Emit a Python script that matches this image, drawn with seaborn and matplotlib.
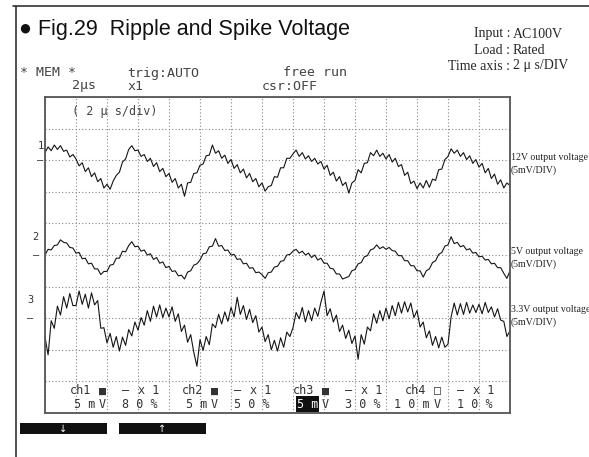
import numpy as np
import pandas as pd
import matplotlib
matplotlib.use("Agg")
import matplotlib.pyplot as plt
from matplotlib.lines import Line2D
from matplotlib.patches import Rectangle
import seaborn as sns

W, H = 589, 457

# sample times in µs (15 div x 2 µs/div)
time_us = np.round(np.arange(0, 30.01, 0.2), 1)

# traces, mV relative to each channel's ground marker
ch1_mv = [1.2, 2.1, 1.5, 2.4, 1.7, 2.3, 1.4, 1.6, 0.5, 0.9,
          0.2, -0.9, -0.4, -1.8, -1.2, -2.6, -2.0, -3.4, -2.9, -4.4,
          -3.8, -4.6, -3.3, -2.4, -1.9, -0.3, 0.2, 1.7, 2.3, 1.5,
          1.6, 0.6, 0.9, -0.2, 0.3, -1.0, -0.4, -1.8, -1.3, -2.6,
          -2.1, -3.5, -2.9, -4.4, -3.8, -5.7, -3.6, -3.5, -2.1, -2.0,
          -0.8, -0.6, 0.7, 0.8, 2.4, 1.1, 1.5, 0.3, 0.8, -0.5,
          0.1, -1.3, -0.7, -2.0, -1.4, -2.8, -2.1, -3.4, -2.9, -4.2,
          -3.6, -4.9, -4.2, -4.0, -2.6, -2.7, -1.2, -1.2, 0.3, 0.3,
          1.0, 1.6, 0.6, 1.2, 0.2, 0.7, -0.2, 0.3, -0.6, -0.2,
          -1.4, -0.8, -2.4, -1.9, -3.3, -2.6, -4.0, -3.5, -5.2, -3.6,
          -3.2, -1.5, -2.0, -0.5, -0.4, 1.2, 0.7, 1.6, 0.6, 1.1,
          0.2, 0.9, -0.3, 0.3, -1.0, -0.7, -2.4, -1.9, -3.7, -3.3,
          -4.5, -3.6, -4.4, -3.2, -4.3, -3.0, -3.2, -1.5, -1.4, 0.1,
          0.6, 1.8, 1.1, 1.6, 0.6, 1.2, 0.1, 0.7, -0.5, 0.1,
          -1.1, -0.5, -2.0, -1.3, -2.9, -2.2, -3.8, -3.1, -4.4, -3.6, -4.0]
ch2_mv = [0.0, 0.9, 0.8, 1.5, 1.6, 2.4, 2.0, 1.9, 1.2, 1.1,
          0.3, 0.4, -0.6, -0.5, -1.4, -1.3, -2.2, -2.2, -3.1, -2.6,
          -2.6, -1.6, -1.5, -0.5, -0.5, 0.6, 0.5, 1.5, 2.1, 1.3,
          1.4, 0.6, 0.8, 0.0, 0.2, -0.7, -0.4, -1.3, -1.1, -2.0,
          -1.8, -2.6, -2.5, -3.3, -3.2, -3.8, -2.7, -2.5, -1.6, -1.4,
          -0.8, 0.2, 0.3, 1.3, 1.4, 2.6, 1.4, 1.5, 0.7, 0.8,
          0.0, 0.1, -0.7, -0.6, -1.4, -1.3, -2.1, -2.0, -2.8, -2.7,
          -3.1, -3.7, -2.8, -2.7, -1.9, -1.8, -1.0, -0.9, 0.0, 0.1,
          0.6, 0.9, 0.3, 0.6, 0.0, 0.3, -0.4, 0.0, -0.8, -0.5,
          -1.3, -1.3, -2.1, -2.2, -3.0, -3.0, -3.8, -3.6, -3.4, -2.5,
          -2.3, -1.4, -1.2, -0.3, -0.1, 0.8, 1.0, 1.6, 1.0, 1.3,
          0.9, 1.2, 0.7, 0.6, -0.1, -0.1, -0.9, -0.9, -1.7, -1.7,
          -2.5, -2.5, -3.5, -2.5, -2.2, -1.2, -0.9, 0.1, 0.4, 1.4,
          1.6, 2.9, 1.8, 2.0, 1.3, 1.5, 0.8, 1.0, 0.3, 0.4,
          -0.3, -0.2, -0.8, -0.7, -1.4, -1.3, -2.0, -2.0, -2.9, -3.7, -2.5]
ch3_mv = [-3.0, -5.8, -0.4, -1.6, 1.9, 0.5, 3.4, 1.6, 3.9, 2.0,
          2.0, 4.3, 2.2, 3.8, 1.6, 4.0, 2.1, 2.8, -1.6, -1.5,
          -3.9, -2.4, -4.6, -2.9, -5.2, -3.0, -4.3, -1.8, -2.8, -0.6,
          -1.9, 0.1, -1.1, 1.2, -0.5, 1.9, 0.2, 2.1, 0.1, 1.6,
          0.2, 1.8, -0.5, 0.7, -2.1, -1.1, -3.8, -2.6, -5.4, -7.6,
          -3.4, -5.1, -2.9, -4.2, -0.9, -1.5, 0.6, -0.9, 1.0, -0.5,
          1.7, 0.2, 3.3, 0.6, 2.0, -0.2, 1.4, -0.7, 0.4, -2.2,
          -1.4, -3.7, -2.6, -5.0, -3.5, -5.2, -3.1, -4.6, -2.2, -2.9,
          -1.5, 0.9, -0.1, 1.7, -0.6, 1.2, -0.4, 1.6, 0.3, 2.5,
          4.3, 0.4, 1.5, -0.6, 0.5, -2.1, -1.1, -3.2, -1.9, -4.0,
          -2.8, -6.5, -2.6, -4.1, -1.4, -2.0, 0.7, -0.8, 1.2, -0.4,
          1.6, -0.1, 2.0, 0.4, 2.5, 0.8, 2.6, 1.0, 2.4, 0.1,
          1.2, -1.4, -0.6, -3.1, -2.0, -4.3, -2.9, -4.7, -3.0, -4.6,
          -4.1, 0.2, 2.4, 0.5, 2.3, 0.6, 2.5, 0.8, 2.1, 0.9,
          2.2, 0.7, 2.5, 0.9, 1.8, 0.2, 1.5, -0.3, -0.5, -2.9, -2.0]

channels = ["ch1", "ch2", "ch3"]
offset_pct = [80, 50, 30]          # ground position, % of screen height
mv_per_div = [5, 5, 5]
right_labels = ["12V output voltage", "5V output voltage", "3.3V output voltage"]

df = pd.DataFrame({
    "time_us": np.tile(time_us, 3),
    "mV": ch1_mv + ch2_mv + ch3_mv,
    "channel": np.repeat(channels, len(time_us)),
})
off = dict(zip(channels, offset_pct))
scale = dict(zip(channels, mv_per_div))
df["div"] = df["channel"].map(off) / 10 + df["mV"] / df["channel"].map(scale)

sns.set_style("white")
plt.rcParams["font.family"] = ["Liberation Sans", "DejaVu Sans"]

fig = plt.figure(figsize=(W / 100, H / 100), dpi=100)


def fx(x):
    return x / W


def fy(y):
    return 1 - y / H


# outer frame
fig.add_artist(Line2D([fx(13), 1], [fy(6), fy(6)], color="#333", lw=1.2))
fig.add_artist(Line2D([fx(16), fx(16)], [fy(6), 0], color="#333", lw=1.2))

# title
fig.text(fx(19), fy(30), "● Fig.29  Ripple and Spike Voltage", fontsize=15.5,
         va="center", ha="left", color="#111")

# conditions (colon aligned)
serif = ["Liberation Serif", "DejaVu Serif"]
for y, left, right in [(34, "Input :", "AC100V"), (50, "Load :", "Rated"),
                       (66, "Time axis :", "2 μ s/DIV")]:
    fig.text(fx(510), fy(y), left, family=serif, fontsize=10, ha="right", va="center")
    fig.text(fx(513), fy(y), right, family=serif, fontsize=10, ha="left", va="center")

# scope header
mono = ["DejaVu Sans Mono"]
hdr = dict(family=mono, fontsize=9.5, color="#444", va="center", ha="left")
for x, y, s in [(20, 73, "* MEM *"), (127, 73, "trig:AUTO"), (283, 73, "free run"),
                (72, 86, "2μs"), (128, 86, "x1"), (262, 86, "csr:OFF")]:
    fig.text(fx(x), fy(y), s, **hdr)

# screen
ax = fig.add_axes([fx(45), fy(413), (510 - 45) / W, (413 - 97) / H])
sns.lineplot(data=df, x="time_us", y="div", hue="channel",
             palette=["#151515"] * 3, legend=False, linewidth=0.8,
             estimator=None, sort=False, ax=ax)
ax.set_xlim(0, 30)
ax.set_ylim(0, 10)
ax.set_xticks(np.arange(0, 31, 2))
ax.set_yticks(np.arange(0, 11, 1))
ax.tick_params(length=0, labelbottom=False, labelleft=False)
ax.set_xlabel("")
ax.set_ylabel("")
ax.grid(True, linestyle=(0, (1, 2)), color="#888", linewidth=0.8)
for sp in ax.spines.values():
    sp.set_color("#555")
    sp.set_linewidth(1.3)

fig.text(fx(72), fy(112), "( 2 μ s/div)", family=mono, fontsize=8.5, color="#444",
         va="center", ha="left")

# channel numbers and ground markers on the left
for num, nx, ny in [("1", 41, 146), ("2", 35, 237), ("3", 30, 300)]:
    fig.text(fx(nx), fy(ny), num, family=mono, fontsize=7.5, color="#333",
             ha="center", va="center")
for pct, mx in zip(offset_pct, [40, 36, 30]):
    gy = 413 - (413 - 97) * pct / 100
    fig.text(fx(mx), fy(gy), "–", family=mono, fontsize=7.5, color="#333",
             ha="center", va="center")

# right-hand labels
for lab, gy in zip(right_labels, [158, 252, 310]):
    fig.text(fx(511), fy(gy), lab, family=serif, fontsize=7.1, ha="left", va="center",
             color="#222")
    fig.text(fx(511), fy(gy + 12), "(5mV/DIV)", family=serif, fontsize=7.1,
             ha="left", va="center", color="#222")

# channel settings inside the screen
blocks = [70, 182, 293, 405]
marks = ["■", "■", "■", "□"]
volts = ["5 m", "5 m", "5 m", "1 0 m"]
pcts = ["8 0 %", "5 0 %", "3 0 %", "1 0 %"]
st = dict(family=mono, fontsize=8.5, color="#333", va="center")
for i, bx in enumerate(blocks):
    fig.text(fx(bx), fy(391), f"ch{i + 1}", ha="left", **st)
    fig.text(fx(bx + 29), fy(391), marks[i], ha="left", **st)
    fig.text(fx(bx + 52), fy(391), "–", ha="left", **st)
    fig.text(fx(bx + 68), fy(391), "x 1", ha="left", **st)
    if i == 2:
        fig.text(fx(bx + 25), fy(404), volts[i], ha="right", family=mono,
                 fontsize=8.5, color="white", va="center",
                 bbox=dict(facecolor="#111", edgecolor="none", pad=0.8))
    else:
        fig.text(fx(bx + 25), fy(404), volts[i], ha="right", **st)
    fig.text(fx(bx + 29), fy(404), "V", ha="left", **st)
    fig.text(fx(bx + 52), fy(404), pcts[i], ha="left", **st)

# soft keys
for x0, x1, arrow in [(20, 107, "↓"), (119, 206, "↑")]:
    fig.add_artist(Rectangle((fx(x0), fy(434)), (x1 - x0) / W, 11 / H,
                             facecolor="#111", edgecolor="none"))
    fig.text(fx((x0 + x1) / 2), fy(428.5), arrow, family=["DejaVu Sans"],
             fontsize=7, color="white", ha="center", va="center")

fig.savefig("out.png", dpi=100)
plt.close(fig)
